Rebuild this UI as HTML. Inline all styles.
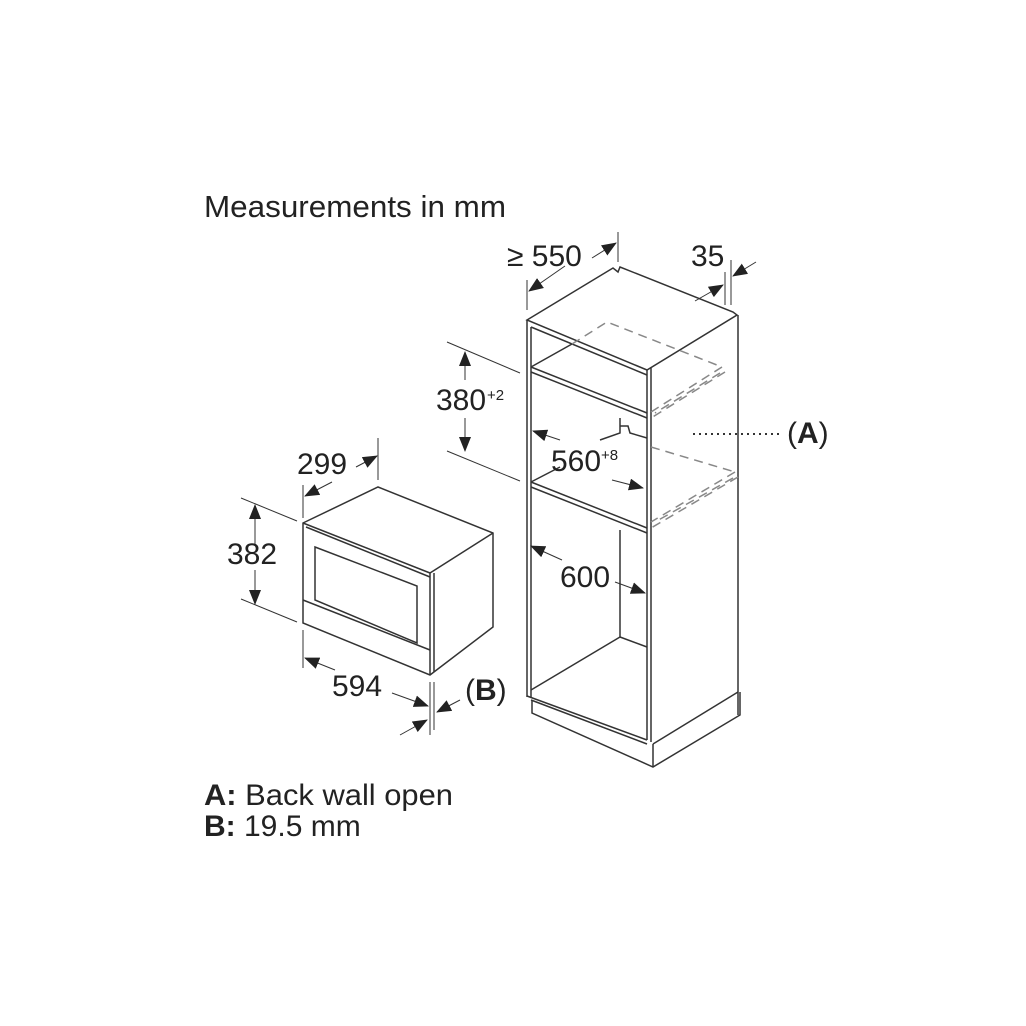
<!DOCTYPE html>
<html><head><style>
html,body{margin:0;padding:0;background:#fff;}
svg{display:block;}
text{font-family:"Liberation Sans",Arial,sans-serif;fill:#222;}
</style></head><body>
<svg width="1026" height="1026" viewBox="0 0 1026 1026" xmlns="http://www.w3.org/2000/svg">
<defs>
<marker id="ar" markerWidth="15" markerHeight="12" refX="14" refY="6" orient="auto" markerUnits="userSpaceOnUse">
<path d="M0,0 L15,6 L0,12 z" fill="#222"/></marker>
</defs>
<text x="204" y="217" font-size="31" textLength="302" lengthAdjust="spacingAndGlyphs">Measurements in mm</text>

<g stroke="#333" stroke-width="1.5" fill="none">
<path d="M527,320 L613,268 L618,272 L620,267 L733,312 L737,315 L647,370 L527,320 Z" fill="#fff"/>
<line x1="527" y1="320" x2="527" y2="697"/>
<line x1="531" y1="327" x2="531" y2="697"/>
<line x1="647" y1="370" x2="647" y2="740"/>
<line x1="651" y1="368" x2="651" y2="742"/>
<line x1="738" y1="315" x2="738" y2="715"/>
<line x1="531" y1="327" x2="647" y2="375"/>
<line x1="531" y1="367" x2="647" y2="413"/>
<line x1="531" y1="372" x2="647" y2="418"/>
<line x1="531" y1="367" x2="572" y2="344"/>
<line x1="531" y1="482" x2="647" y2="528"/>
<line x1="531" y1="487" x2="647" y2="533"/>
<line x1="531" y1="482" x2="560" y2="467"/>
<path d="M620,418 L620,433 L600,440 M620,426 L628,426 L630,433 L647,438"/>
<line x1="620" y1="530" x2="620" y2="637"/>
<line x1="620" y1="637" x2="647" y2="647"/>
<line x1="620" y1="637" x2="531" y2="690"/>
<line x1="527" y1="696" x2="647" y2="740"/>
<line x1="531" y1="700" x2="647" y2="744"/>
<path d="M532,700 L532,713 L653,767 L740,715 L740,692"/>
<line x1="653" y1="744" x2="653" y2="767"/>
<line x1="653" y1="744" x2="738" y2="692"/>
</g>
<g stroke="#888" stroke-width="1.5" fill="none" stroke-dasharray="9,6">
<path d="M572,344 L607,322 L722,367"/>
<line x1="722" y1="367" x2="651" y2="412"/>
<line x1="725" y1="372" x2="651" y2="418"/>
<line x1="720" y1="373" x2="655" y2="413"/>
<path d="M651,447 L735,472"/>
<line x1="735" y1="472" x2="651" y2="522"/>
<line x1="738" y1="477" x2="651" y2="528"/>
<line x1="733" y1="478" x2="655" y2="522"/>
</g>

<g stroke="#333" stroke-width="1.5" fill="none">
<path d="M303,523 L378,487 L493,533 L493,627 L430,675 L303,623 Z" fill="#fff"/>
<line x1="303" y1="523" x2="430" y2="573"/>
<line x1="306" y1="527" x2="430" y2="577"/>
<line x1="430" y1="573" x2="493" y2="533"/>
<line x1="430" y1="573" x2="430" y2="675"/>
<line x1="434" y1="573" x2="434" y2="672"/>
<path d="M315,547 L417,586 L417,643 L315,600 Z"/>
<line x1="303" y1="600" x2="430" y2="650"/>
</g>

<g stroke="#333" stroke-width="1" fill="none">
<line x1="527" y1="310" x2="527" y2="280"/>
<line x1="618" y1="262" x2="618" y2="232"/>
<line x1="565" y1="266" x2="529" y2="291" marker-end="url(#ar)"/>
<line x1="592" y1="258" x2="616" y2="243" marker-end="url(#ar)"/>
<line x1="725" y1="305" x2="725" y2="272"/>
<line x1="731" y1="305" x2="731" y2="260"/>
<line x1="695" y1="301" x2="723" y2="285" marker-end="url(#ar)"/>
<line x1="756" y1="262" x2="733" y2="276" marker-end="url(#ar)"/>
<line x1="447" y1="342" x2="520" y2="373"/>
<line x1="447" y1="451" x2="520" y2="481"/>
<line x1="465" y1="380" x2="465" y2="352" marker-end="url(#ar)"/>
<line x1="465" y1="418" x2="465" y2="451" marker-end="url(#ar)"/>
<line x1="560" y1="440" x2="533" y2="431" marker-end="url(#ar)"/>
<line x1="612" y1="480" x2="643" y2="488" marker-end="url(#ar)"/>
<line x1="562" y1="560" x2="531" y2="546" marker-end="url(#ar)"/>
<line x1="615" y1="582" x2="645" y2="593" marker-end="url(#ar)"/>
<line x1="303" y1="518" x2="303" y2="485"/>
<line x1="378" y1="480" x2="378" y2="438"/>
<line x1="332" y1="482" x2="305" y2="496" marker-end="url(#ar)"/>
<line x1="356" y1="467" x2="377" y2="456" marker-end="url(#ar)"/>
<line x1="241" y1="498" x2="297" y2="521"/>
<line x1="241" y1="599" x2="297" y2="622"/>
<line x1="255" y1="545" x2="255" y2="505" marker-end="url(#ar)"/>
<line x1="255" y1="570" x2="255" y2="604" marker-end="url(#ar)"/>
<line x1="303" y1="630" x2="303" y2="668"/>
<line x1="430" y1="682" x2="430" y2="735"/>
<line x1="434" y1="682" x2="434" y2="730"/>
<line x1="335" y1="670" x2="305" y2="658" marker-end="url(#ar)"/>
<line x1="392" y1="693" x2="428" y2="706" marker-end="url(#ar)"/>
<line x1="400" y1="735" x2="427" y2="720" marker-end="url(#ar)"/>
<line x1="460" y1="700" x2="437" y2="712" marker-end="url(#ar)"/>
</g>
<line x1="693" y1="434" x2="783" y2="434" stroke="#333" stroke-width="2" stroke-dasharray="2,4"/>

<g font-size="30">
<text x="507" y="266">≥ 550</text>
<text x="691" y="266">35</text>
<text x="436" y="410">380</text><text x="487" y="400" font-size="15">+2</text>
<text x="551" y="471">560</text><text x="601" y="460" font-size="15">+8</text>
<text x="560" y="587">600</text>
<text x="297" y="474">299</text>
<text x="227" y="564">382</text>
<text x="332" y="696">594</text>
<text x="465" y="700">(<tspan font-weight="bold">B</tspan>)</text>
<text x="787" y="443">(<tspan font-weight="bold">A</tspan>)</text>
</g>
<g font-size="30">
<text x="204" y="805" textLength="249" lengthAdjust="spacingAndGlyphs"><tspan font-weight="bold">A:</tspan> Back wall open</text>
<text x="204" y="836"><tspan font-weight="bold">B:</tspan> 19.5 mm</text>
</g>
</svg>
</body></html>
